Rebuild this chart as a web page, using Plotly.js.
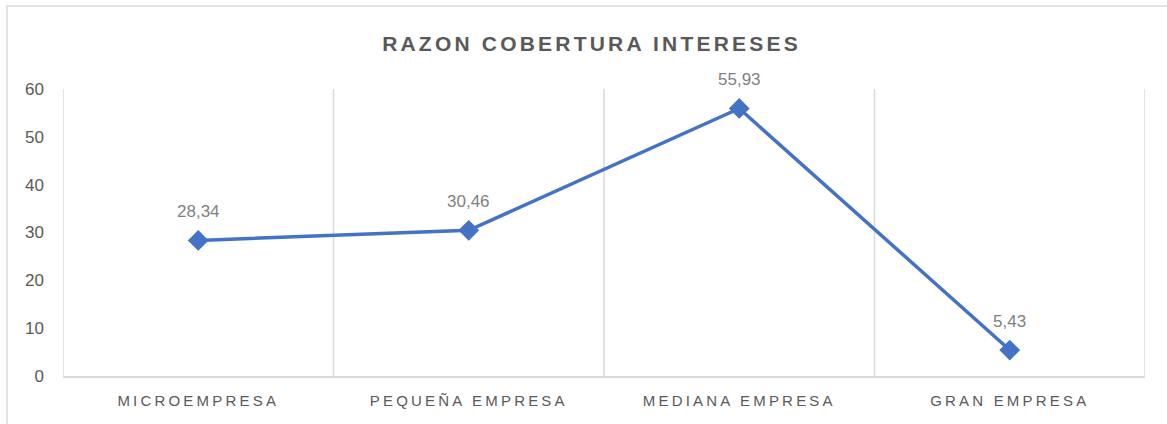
<!DOCTYPE html>
<html>
<head>
<meta charset="utf-8">
<script src="https://cdn.plot.ly/plotly-3.0.1.min.js"></script>
<style>
  html, body { margin: 0; padding: 0; background: #fff; }
  #chart { width: 1167px; height: 424px; }
  .gtitle { letter-spacing: 3.2px; }
  .xtick text { letter-spacing: 3.2px; }
</style>
</head>
<body>
<div id="chart"></div>
<script>
const categories = ["MICROEMPRESA", "PEQUEÑA EMPRESA", "MEDIANA EMPRESA", "GRAN EMPRESA"];
const values = [28.34, 30.46, 55.93, 5.43];
const labels = ["28,34", "30,46", "55,93", "5,43"];
const yTicks = [0, 10, 20, 30, 40, 50, 60];

const fontFam = "'Liberation Sans Narrow', 'Liberation Sans', Arial, sans-serif";

const trace = {
  x: categories,
  y: values,
  type: "scatter",
  mode: "lines+markers",
  line: { color: "#4472C4", width: 3.5 },
  marker: { symbol: "diamond", size: 16, color: "#4472C4" },
  cliponaxis: false,
  hoverinfo: "none"
};

const annotations = categories.map((c, i) => ({
  x: c, y: values[i], xref: "x", yref: "y",
  text: labels[i], showarrow: false,
  yshift: 29,
  font: { family: fontFam, size: 17, color: "#7f7f7f" }
}));

const layout = {
  width: 1167,
  height: 424,
  margin: { l: 63, r: 22, t: 89, b: 48 },
  paper_bgcolor: "#ffffff",
  plot_bgcolor: "#ffffff",
  showlegend: false,
  title: {
    text: "<b>RAZON COBERTURA INTERESES</b>",
    x: 0.5 + 8 / 1167, xanchor: "center",
    y: 0.897, yanchor: "middle",
    font: { family: "'Liberation Sans', Arial, sans-serif", size: 21, color: "#595959" }
  },
  xaxis: {
    type: "category",
    range: [-0.5, 3.5],
    showgrid: false,
    zeroline: false,
    showline: true,
    linecolor: "#d9d9d9",
    linewidth: 1.5,
    ticks: "",
    ticklabelstandoff: 10,
    tickfont: { family: fontFam, size: 15, color: "#595959" },
    fixedrange: true
  },
  yaxis: {
    range: [0, 60],
    tickvals: yTicks,
    ticktext: yTicks.map(String),
    showgrid: false,
    zeroline: false,
    showline: false,
    ticks: "",
    ticklabelstandoff: 18,
    tickfont: { family: fontFam, size: 17, color: "#595959" },
    fixedrange: true
  },
  annotations: annotations,
  shapes: [
    ...[-0.5, 0.5, 1.5, 2.5, 3.5].map(b => ({
      type: "line", xref: "x", yref: "paper",
      x0: b, x1: b, y0: 0, y1: 1,
      line: { color: "#d9d9d9", width: 1.5 },
      layer: "below"
    })),
    {
      type: "rect", xref: "paper", yref: "paper",
      x0: (7 - 63) / 1082, x1: 1.05,
      y0: -0.3, y1: (376 - 6) / 287,
      line: { color: "#d9d9d9", width: 1.5 },
      layer: "below"
    }
  ]
};

Plotly.newPlot("chart", [trace], layout, { displayModeBar: false, staticPlot: true });
</script>
</body>
</html>
